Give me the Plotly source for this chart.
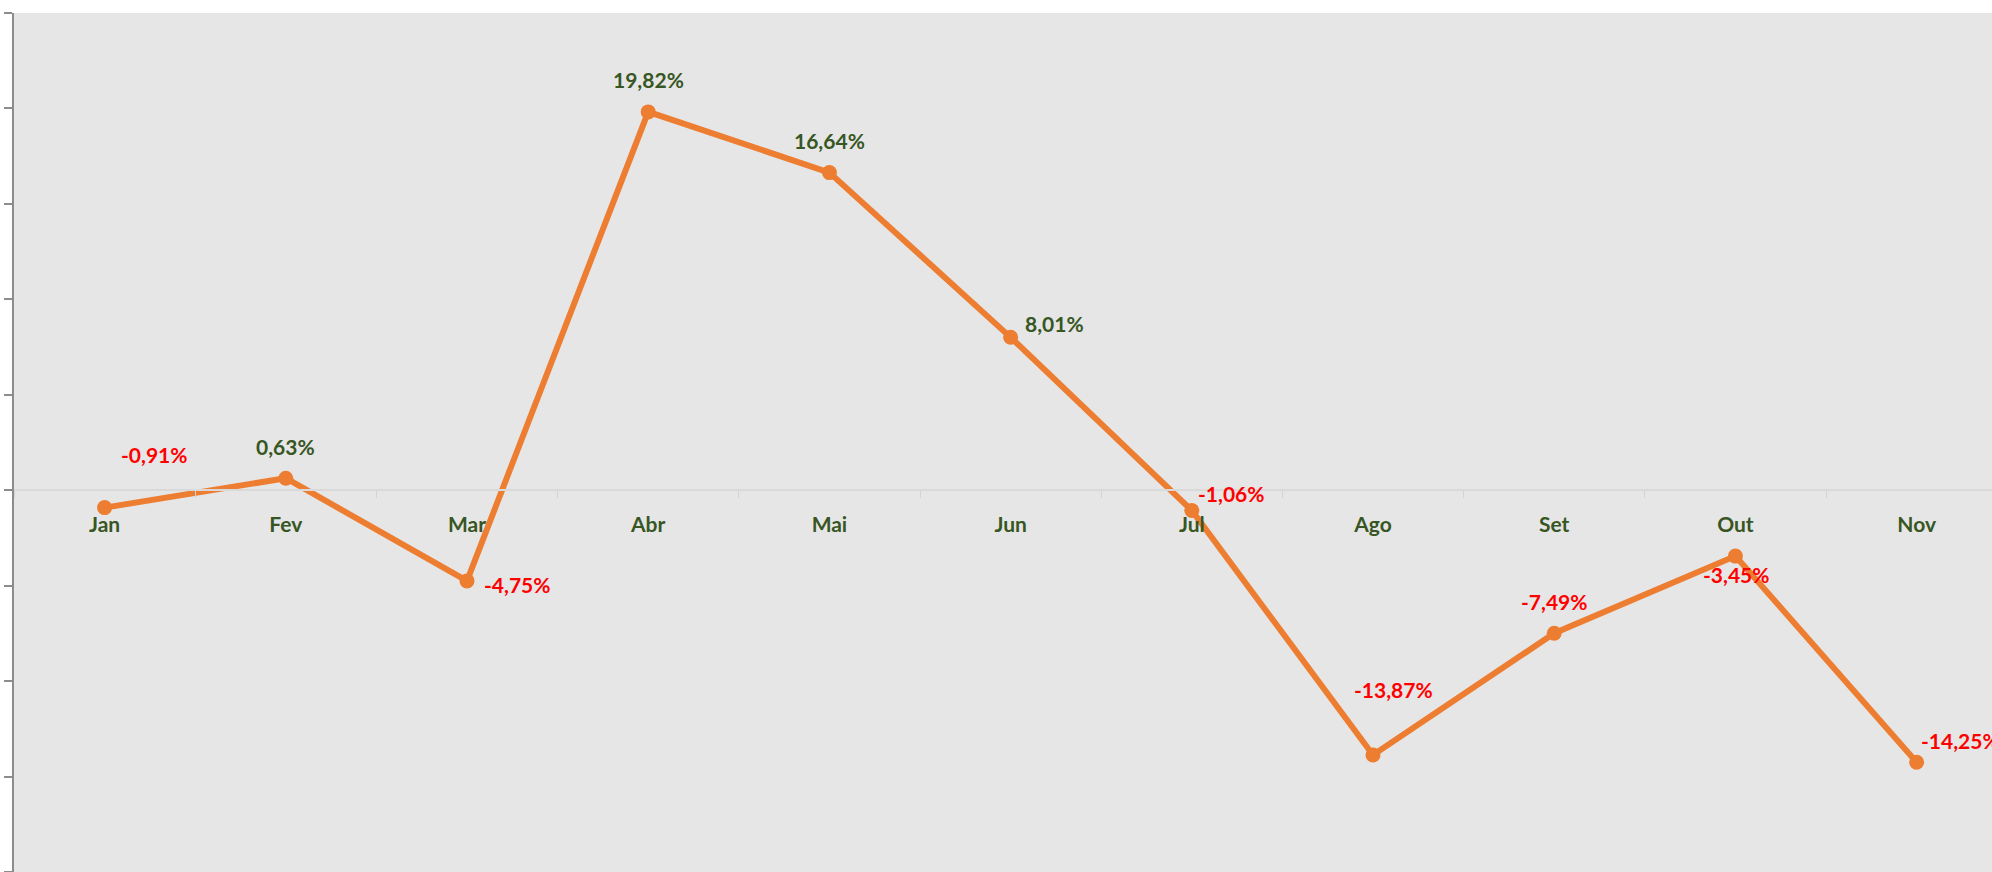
import plotly.graph_objects as go

months = ["Jan", "Fev", "Mar", "Abr", "Mai", "Jun", "Jul", "Ago", "Set", "Out", "Nov"]
values = [-0.91, 0.63, -4.75, 19.82, 16.64, 8.01, -1.06, -13.87, -7.49, -3.45, -14.25]

# label offsets in pixels (layout only)
label_dx = [50, 0, 50, 0, 0, 44, 40, 20, 0, 1, 44]
label_dy = [53, 32, -4, 32, 32, 14, 17, 65, 32, -18, 22]

GREEN = "#375623"
RED = "#FF0000"
ORANGE = "#ED7D31"
FONT = "Lato"

fig = go.Figure()
fig.add_trace(go.Scatter(
    x=months, y=values, mode="lines+markers",
    line=dict(color=ORANGE, width=6),
    marker=dict(color=ORANGE, size=15),
    hoverinfo="skip", showlegend=False,
))

for m, v, dx, dy in zip(months, values, label_dx, label_dy):
    txt = f"{v:.2f}".replace(".", ",") + "%"
    fig.add_annotation(
        x=m, y=v, text=txt, showarrow=False,
        xshift=dx, yshift=dy,
        font=dict(family=FONT, size=21, color=GREEN if v >= 0 else RED, weight="bold"),
    )

fig.update_layout(
    width=1992, height=872,
    margin=dict(l=14, r=0, t=13, b=0),
    paper_bgcolor="white",
    plot_bgcolor="#E6E6E6",
    font=dict(family=FONT),
    xaxis=dict(
        type="category",
        range=[-0.5, 10.416],
        anchor="free", position=20/45,
        showline=True, linecolor="#D9D9D9", linewidth=2,
        ticks="outside", tickson="boundaries", ticklen=7, tickcolor="#D4D4D4", tickwidth=1,
        showgrid=False, zeroline=False,
        tickfont=dict(family=FONT, size=21, color=GREEN, weight="bold"),
        ticklabelstandoff=16,
    ),
    yaxis=dict(
        range=[-20, 25], dtick=5,
        showticklabels=False,
        showline=True, linecolor="#8C8C8C", linewidth=2,
        ticks="outside", ticklen=8, tickcolor="#8C8C8C", tickwidth=1.5,
        showgrid=False, zeroline=False,
    ),
)

fig.write_html(
    "out.html",
    config={"displayModeBar": False},
    post_script="document.body.style.margin='0';document.body.style.overflow='hidden';",
)
